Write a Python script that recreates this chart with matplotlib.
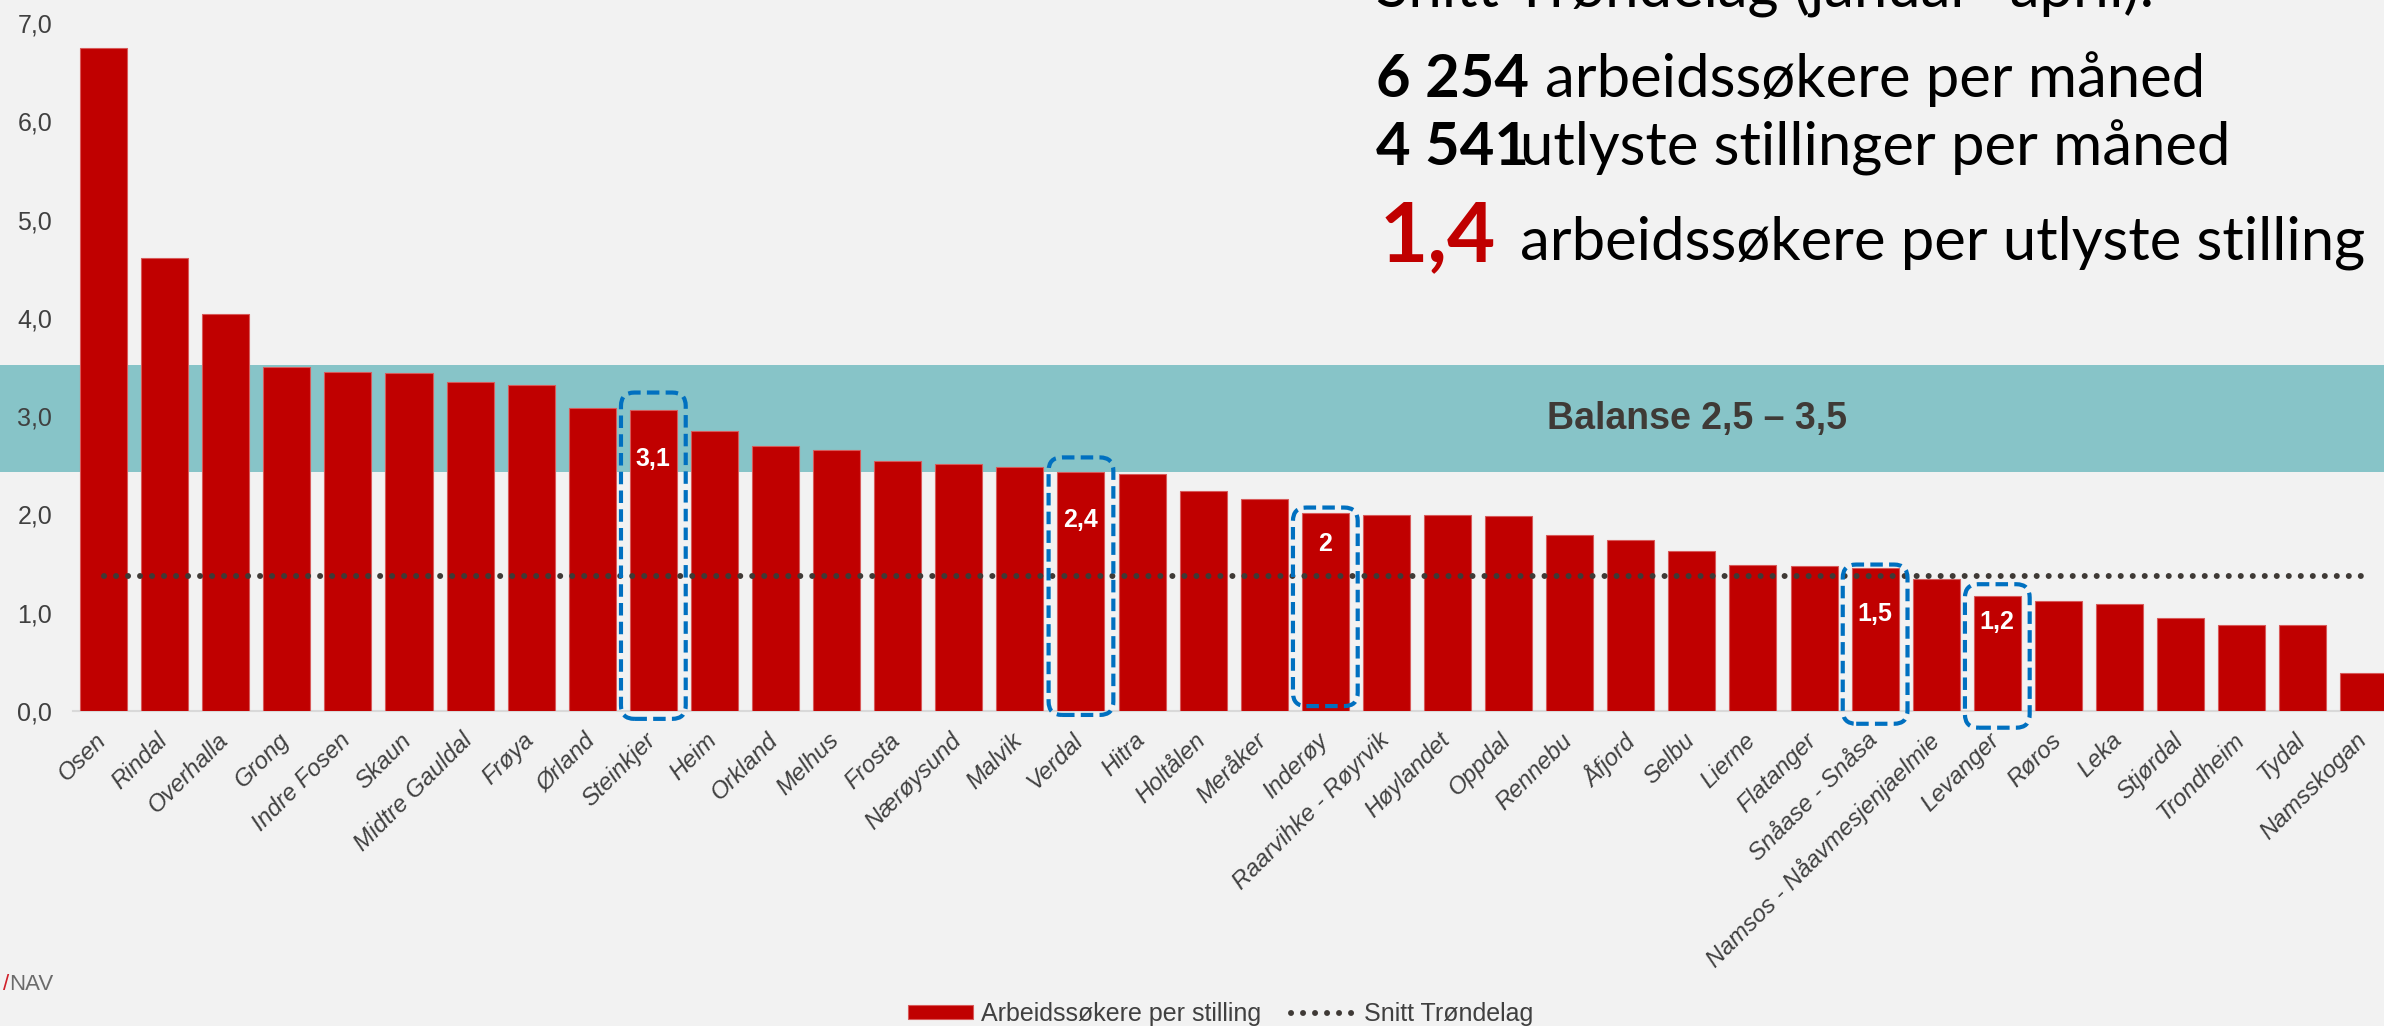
import matplotlib.pyplot as plt
import matplotlib.transforms as mtransforms
from matplotlib.patches import Rectangle, FancyBboxPatch

# data (arbeidssøkere per utlyste stilling, jan-apr)
kommuner = ['Osen', 'Rindal', 'Overhalla', 'Grong', 'Indre Fosen', 'Skaun', 'Midtre Gauldal',
            'Frøya', 'Ørland', 'Steinkjer', 'Heim', 'Orkland', 'Melhus', 'Frosta', 'Nærøysund',
            'Malvik', 'Verdal', 'Hitra', 'Holtålen', 'Meråker', 'Inderøy', 'Raarvihke - Røyrvik',
            'Høylandet', 'Oppdal', 'Rennebu', 'Åfjord', 'Selbu', 'Lierne', 'Flatanger',
            'Snåase - Snåsa', 'Namsos - Nåavmesjenjaelmie', 'Levanger', 'Røros', 'Leka',
            'Stjørdal', 'Trondheim', 'Tydal', 'Namsskogan']
verdier = [6.75, 4.61, 4.04, 3.50, 3.45, 3.44, 3.35, 3.32, 3.08, 3.06, 2.85, 2.70, 2.66, 2.54,
           2.51, 2.48, 2.43, 2.41, 2.24, 2.16, 2.01, 1.99, 1.99, 1.98, 1.79, 1.74, 1.63, 1.49,
           1.48, 1.45, 1.34, 1.17, 1.12, 1.09, 0.95, 0.875, 0.87, 0.39]
snitt = 1.37
balanse = (2.43, 3.52)
uthevet = ['Steinkjer', 'Verdal', 'Inderøy', 'Snåase - Snåsa', 'Levanger']
uthevet_tekst = ['3,1', '2,4', '2', '1,5', '1,2']

# layout for the dashed boxes / labels (offsets from bar top)
boks_topp = [0.18, 0.15, 0.06, 0.04, 0.12]
boks_bunn = [-0.08, -0.04, 0.05, -0.13, -0.17]
tekst_y = [-0.50, -0.49, -0.31, -0.46, -0.26]

bg = '#F2F2F2'
rod = '#C00000'
gra = '#404040'
narrow = ['Liberation Sans Narrow', 'Liberation Sans', 'DejaVu Sans']

W, H = 2384, 1026
fig = plt.figure(figsize=(W / 100, H / 100), dpi=100, facecolor=bg)
ax = fig.add_axes([73 / W, 1 - 711 / H, (W - 73) / W, (711 - 23) / H])
ax.set_facecolor(bg)

x = list(range(len(kommuner)))
ax.set_xlim(-0.5, 37.33)
ax.set_ylim(0, 7)

# balanse band goes across the whole slide
trans = mtransforms.blended_transform_factory(fig.transFigure, ax.transData)
ax.add_patch(Rectangle((0, balanse[0]), 1, balanse[1] - balanse[0], transform=trans,
                       facecolor='#87C4C8', edgecolor='none', zorder=0.5, clip_on=False))
ax.text(26.08, 2.97, 'Balanse 2,5 – 3,5', fontsize=27, fontweight='bold', color='#3F3A36',
        family='Liberation Sans', ha='center', va='center', zorder=1)

stolper = ax.bar(x, verdier, width=0.77, color=rod, edgecolor='#D85A5A', linewidth=0.8,
                 zorder=2, label='Arbeidssøkere per stilling')
linje, = ax.plot(x, [snitt] * len(x), linestyle=(0, (0.01, 2)), linewidth=4.3, color='#3F3A36',
                 dash_capstyle='round', zorder=3, label='Snitt Trøndelag')

for k, navn in enumerate(uthevet):
    i = kommuner.index(navn)
    y0 = boks_bunn[k]
    y1 = verdier[i] + boks_topp[k]
    ax.add_patch(FancyBboxPatch((i - 0.53, y0), 1.06, y1 - y0,
                                boxstyle='round,pad=0,rounding_size=0.22', mutation_aspect=0.62,
                                fill=False, edgecolor='#0070C0', linewidth=3,
                                linestyle=(0, (3, 1.5)), zorder=4, clip_on=False))
    ax.text(i, verdier[i] + tekst_y[k], uthevet_tekst[k], color='white', fontsize=18,
            fontweight='bold', family=narrow, ha='center', va='center', zorder=5)

for side in ['left', 'right', 'top']:
    ax.spines[side].set_visible(False)
ax.spines['bottom'].set_color('#D9D9D9')
ax.spines['bottom'].set_linewidth(1.5)
ax.spines['bottom'].set_zorder(1)

ax.set_yticks(range(8))
ax.set_yticklabels([f'{v},0' for v in range(8)], fontsize=18, color=gra, family='Liberation Sans')
ax.tick_params(axis='y', length=0, pad=15)
ax.set_xticks(x)
ax.set_xticklabels(kommuner, rotation=45, ha='right', rotation_mode='anchor', fontsize=17.3,
                   style='italic', color=gra, family='Liberation Sans')
ax.tick_params(axis='x', length=0, pad=12.8)
offset = mtransforms.ScaledTranslation(-0.09, 0, fig.dpi_scale_trans)
for lbl in ax.get_xticklabels():
    lbl.set_transform(lbl.get_transform() + offset)

fig.legend(handles=[stolper, linje], loc='center left', bbox_to_anchor=(908 / W, 1 - 1014 / H),
           ncol=2, frameon=False, borderpad=0, borderaxespad=0, handlelength=2.6,
           handleheight=0.52, handletextpad=0.32, columnspacing=1.2,
           prop={'family': narrow, 'size': 18}, labelcolor=gra)

# slide text, top right
lato = 'Lato'
fig.text(1376 / W, 1 - 7 / H, 'Snitt Trøndelag (januar- april):', fontsize=43, family=lato,
         color='black', va='baseline')
fig.text(1376 / W, 1 - 97 / H, '6 254', fontsize=43, family=lato, fontweight='bold',
         color='black', va='baseline')
fig.text(1545 / W, 1 - 97 / H, 'arbeidssøkere per måned', fontsize=43, family=lato,
         color='black', va='baseline')
fig.text(1376 / W, 1 - 165 / H, '4 541', fontsize=43, family=lato, fontweight='bold',
         color='black', va='baseline')
fig.text(1520 / W, 1 - 165 / H, 'utlyste stillinger per måned', fontsize=43, family=lato,
         color='black', va='baseline')
fig.text(1380 / W, 1 - 261 / H, '1,4', fontsize=60, family=lato, fontweight='bold',
         color=rod, va='baseline')
fig.text(1520 / W, 1 - 259 / H, 'arbeidssøkere per utlyste stilling', fontsize=43, family=lato,
         color='black', va='baseline')

# NAV logo text
fig.text(9 / W, 1 - 985 / H, '/', fontsize=16, color='#D0202A', ha='right', va='center',
         family='Liberation Sans')
fig.text(9 / W, 1 - 985 / H, 'NAV', fontsize=16, color='#6B6B6B', ha='left', va='center',
         family='Liberation Sans')

fig.savefig('out.png', dpi=100, facecolor=bg)
